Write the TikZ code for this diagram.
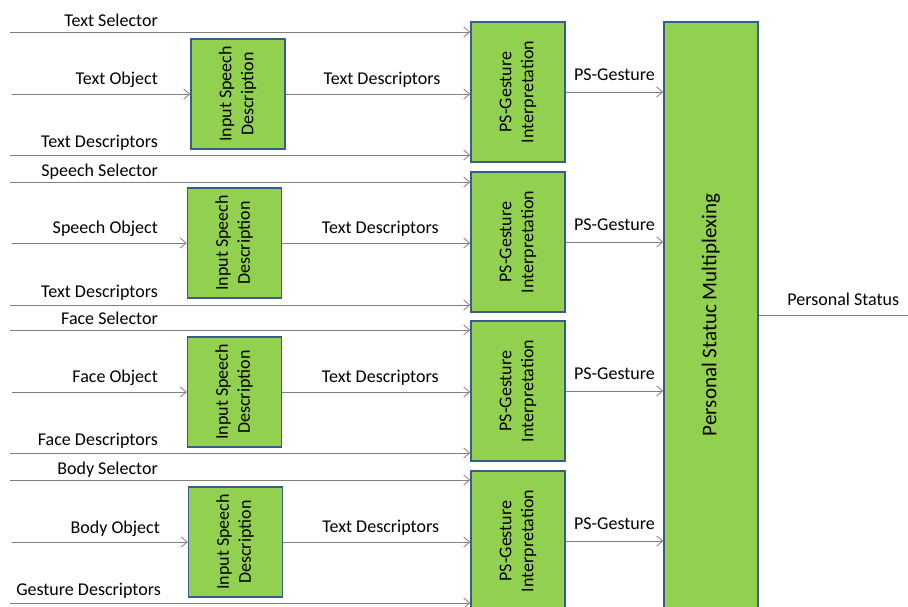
\documentclass[tikz,border=0pt]{standalone}
\usepackage{fontspec}
\setmainfont{Carlito}
\usepackage{tikz}
\usetikzlibrary{arrows.meta}
\definecolor{psgreen}{HTML}{92D050}
\definecolor{psedge}{HTML}{385D8A}
\definecolor{psline}{HTML}{7F7F7F}

\begin{document}
\begin{tikzpicture}[x=1pt, y=-1pt,
  greenbox/.style={draw=psedge, line width=1.4pt, fill=psgreen, inner sep=0pt, align=center, font=\fontsize{18}{22}\selectfont},
  isdbox/.style={greenbox, minimum width=94pt, minimum height=110pt},
  psbox/.style={greenbox, minimum width=94pt, minimum height=140pt},
  muxbox/.style={greenbox, minimum width=94pt, minimum height=586pt, font=\fontsize{21}{25}\selectfont},
  wire/.style={draw=psline, line width=1pt},
  arr/.style={wire, -{Straight Barb[length=6pt, width=10pt, line width=0.8pt]}},
  inlbl/.style={anchor=base east, inner sep=0pt, font=\fontsize{18}{22}\selectfont},
  midlbl/.style={anchor=base, inner sep=0pt, yshift=10pt, font=\fontsize{18}{22}\selectfont}]
  \useasboundingbox (0,0) rectangle (908,606);
  \clip (0,0) rectangle (908,606);

  % processing blocks
  \node[isdbox] (isd1) at (238,94) {\rotatebox{90}{\begin{tabular}{@{}c@{}}Input Speech\\Description\end{tabular}}};
  \node[isdbox] (isd2) at (234.5,243) {\rotatebox{90}{\begin{tabular}{@{}c@{}}Input Speech\\Description\end{tabular}}};
  \node[isdbox] (isd3) at (234.5,392) {\rotatebox{90}{\begin{tabular}{@{}c@{}}Input Speech\\Description\end{tabular}}};
  \node[isdbox] (isd4) at (235.5,542) {\rotatebox{90}{\begin{tabular}{@{}c@{}}Input Speech\\Description\end{tabular}}};
  \node[psbox] (ps1) at (518,92) {\rotatebox{90}{\begin{tabular}{@{}c@{}}PS-Gesture\\Interpretation\end{tabular}}};
  \node[psbox] (ps2) at (518,242) {\rotatebox{90}{\begin{tabular}{@{}c@{}}PS-Gesture\\Interpretation\end{tabular}}};
  \node[psbox] (ps3) at (518,391) {\rotatebox{90}{\begin{tabular}{@{}c@{}}PS-Gesture\\Interpretation\end{tabular}}};
  \node[psbox] (ps4) at (518,541) {\rotatebox{90}{\begin{tabular}{@{}c@{}}PS-Gesture\\Interpretation\end{tabular}}};
  \node[muxbox] (psm) at (711,315) {\rotatebox{90}{Personal Statuc Multiplexing}};

  % free ends of the inputs
  \coordinate (tsel) at (10,32);
  \coordinate (tobj) at (12,94);
  \coordinate (tdsc) at (10,155);
  \coordinate (ssel) at (10,182);
  \coordinate (sobj) at (12,243);
  \coordinate (sdsc) at (10,305);
  \coordinate (fsel) at (10,330);
  \coordinate (fobj) at (12,392);
  \coordinate (fdsc) at (10,453);
  \coordinate (bsel) at (10,480);
  \coordinate (bobj) at (12,542);
  \coordinate (bdsc) at (10,603);
  \coordinate (pstat) at (908,315);

  % input labels
  \node[inlbl] (tsellbl) at (158,26) {Text Selector};
  \node[inlbl] (tobjlbl) at (158,84) {Text Object};
  \node[inlbl] (tdsclbl) at (158,147) {Text Descriptors};
  \node[inlbl] (ssellbl) at (158,176) {Speech Selector};
  \node[inlbl] (sobjlbl) at (158,233) {Speech Object};
  \node[inlbl] (sdsclbl) at (158,297) {Text Descriptors};
  \node[inlbl] (fsellbl) at (158,324) {Face Selector};
  \node[inlbl] (fobjlbl) at (158,382) {Face Object};
  \node[inlbl] (fdsclbl) at (158,445) {Face Descriptors};
  \node[inlbl] (bsellbl) at (158,474) {Body Selector};
  \node[inlbl] (bobjlbl) at (160,533) {Body Object};
  \node[inlbl] (bdsclbl) at (161,595) {Gesture Descriptors};

  % text row
  \draw[arr] (tsel) -- (tsel -| ps1.west);
  \draw[arr] (tobj) -- (isd1.west);
  \draw[arr] (tdsc) -- (tdsc -| ps1.west);
  \draw[arr] (isd1.east) -- node[midlbl, xshift=4pt] (tdlbl1) {Text Descriptors} (isd1.east -| ps1.west);
  \draw[arr] (ps1.east) -- node[midlbl, yshift=2pt] (pglbl1) {PS-Gesture} (ps1.east -| psm.west);
  % speech row
  \draw[arr] (ssel) -- (ssel -| ps2.west);
  \draw[arr] (sobj) -- (isd2.west);
  \draw[arr] (sdsc) -- (sdsc -| ps2.west);
  \draw[arr] (isd2.east) -- node[midlbl, xshift=4pt] (tdlbl2) {Text Descriptors} (isd2.east -| ps2.west);
  \draw[arr] (ps2.east) -- node[midlbl, yshift=2pt] (pglbl2) {PS-Gesture} (ps2.east -| psm.west);
  % face row
  \draw[arr] (fsel) -- (fsel -| ps3.west);
  \draw[arr] (fobj) -- (isd3.west);
  \draw[arr] (fdsc) -- (fdsc -| ps3.west);
  \draw[arr] (isd3.east) -- node[midlbl, xshift=4pt] (tdlbl3) {Text Descriptors} (isd3.east -| ps3.west);
  \draw[arr] (ps3.east) -- node[midlbl, yshift=2pt] (pglbl3) {PS-Gesture} (ps3.east -| psm.west);
  % body row
  \draw[arr] (bsel) -- (bsel -| ps4.west);
  \draw[arr] (bobj) -- (isd4.west);
  \draw[arr] (bdsc) -- (bdsc -| ps4.west);
  \draw[arr] (isd4.east) -- node[midlbl, xshift=4pt] (tdlbl4) {Text Descriptors} (isd4.east -| ps4.west);
  \draw[arr] (ps4.east) -- node[midlbl, yshift=2pt] (pglbl4) {PS-Gesture} (ps4.east -| psm.west);

  % output
  \draw[wire] (psm.east) -- node[midlbl, xshift=10pt] (pstlbl) {Personal Status} (pstat);
\end{tikzpicture}
\end{document}
